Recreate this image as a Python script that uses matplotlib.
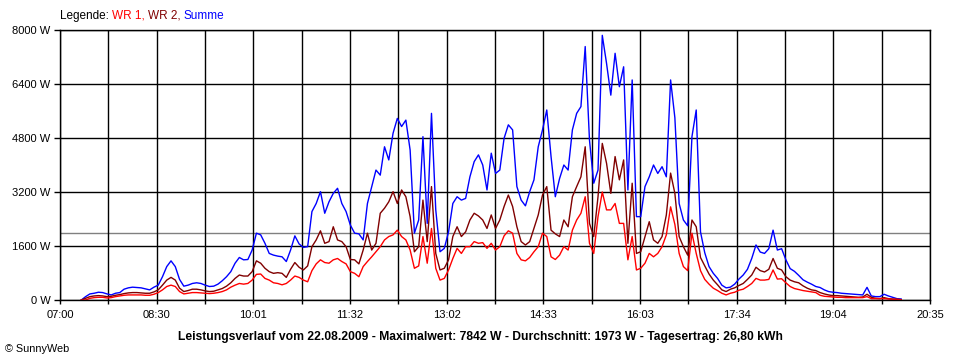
import numpy as np
import matplotlib
matplotlib.use("Agg")
import matplotlib.pyplot as plt

# Zeitachse: 07:20 bis 20:08, alle 4 Minuten (Minuten seit Mitternacht)
minutes = np.arange(440, 1209, 4)

summe = [0,100,180,200,230,220,180,150,200,220,
         320,360,380,370,360,330,300,380,440,690,
         990,1160,990,610,410,440,490,510,490,440,
         400,410,470,570,690,840,1090,1260,1190,1200,
         1480,1980,
         1930,1680,1380,1330,1300,1280,1140,1480,1900,1660,
         1560,1580,2620,2860,3210,2570,2910,3160,3310,2860,
         2620,2220,1980,1960,1780,2860,3360,3850,3700,4540,
         4150,4940,5380,5140,
         5330,4440,1980,2370,4840,2270,5530,2670,1430,1530,
         2020,2860,3060,2960,3010,3650,4100,4300,4000,3260,
         4350,3750,3850,4790,5190,5040,3360,2960,2790,3210,
         3560,4540,5040,5630,
         4250,3060,3600,4000,3850,5040,5530,5730,7510,4740,
         3460,3850,7842,7010,6070,7310,6320,6910,3260,6520,
         2470,2470,3360,3650,4000,3750,3950,3650,6520,5400,
         2860,2370,
         2200,4840,5630,2020,1400,990,790,640,440,360,
         380,470,620,740,910,1230,1630,1420,1380,1520,
         2070,1480,1520,1190,930,850,730,600,530,470,
         400,
         370,300,250,230,220,200,190,180,170,160,
         150,375,120,100,100,170,120,80,40,30]

wr2 = [0,50,100,120,130,120,100,110,140,160,
       190,210,220,220,210,200,200,240,300,440,
       590,670,590,350,250,280,320,320,300,270,
       250,260,300,340,410,510,640,740,710,710,
       840,1160,
       1090,940,840,790,810,790,670,910,1110,970,
       890,1010,1580,1780,2050,1680,1730,2170,1780,1730,
       1580,1200,1190,1070,1480,1980,1480,1680,2570,2720,
       2910,3210,2860,3260,
       3060,2470,1430,1580,2960,1730,3360,1380,890,940,
       1190,1880,2170,1880,2020,2370,2570,2490,2370,2120,
       2520,2120,2370,2770,3110,2770,2170,1730,1630,1730,
       2120,2520,3110,3360,
       2070,1960,1880,2370,2170,3060,3360,3650,4540,2270,
       1880,3060,4640,4050,3160,4250,3560,4150,1680,3460,
       1380,1430,1880,2320,1780,1680,1880,2520,3760,3160,
       1880,1580,
       1330,2370,2170,1260,1010,770,590,450,300,250,
       320,360,430,490,610,740,970,870,830,910,
       1230,940,890,690,590,540,510,420,350,300,
       280,
       220,180,150,130,130,120,110,100,90,80,
       90,170,80,50,40,70,40,30,20,10]

wr1 = [0,0,50,70,80,80,60,70,100,120,
       140,150,150,150,150,140,140,170,220,300,
       400,440,400,250,180,200,220,220,210,200,
       190,200,220,250,300,380,440,490,470,490,
       590,760,
       770,640,590,510,490,450,490,590,710,670,
       590,540,870,1070,1190,1110,1090,1190,1230,1140,
       1070,840,790,690,990,1140,1280,1430,1580,1780,
       1880,1930,2070,1880,
       1780,1480,940,1010,1880,1090,2120,940,590,640,
       890,1230,1530,1380,1580,1580,1730,1680,1700,1530,
       1680,1480,1580,1900,2050,1980,1380,1190,1160,1260,
       1430,1580,1980,1880,
       1280,1200,1330,1580,1480,2070,2370,2570,3060,1680,
       1380,2470,3200,2670,2670,2860,2270,2270,1190,1880,
       890,940,1090,1380,1280,1380,1580,1930,2760,2240,
       1380,990,
       870,1980,1380,870,610,470,350,280,200,150,
       200,230,290,320,400,490,640,590,590,610,
       890,620,630,510,400,340,310,280,260,240,
       220,
       140,110,100,90,80,80,70,70,70,70,
       70,100,40,40,40,40,30,20,20,10]

durchschnitt = 1973
x_labels = ["07:00", "08:30", "10:01", "11:32", "13:02",
            "14:33", "16:03", "17:34", "19:04", "20:35"]
y_ticks = [0, 1600, 3200, 4800, 6400, 8000]
title = ("Leistungsverlauf vom 22.08.2009 - Maximalwert: 7842 W - "
         "Durchschnitt: 1973 W - Tagesertrag: 26,80 kWh")

plt.rcParams['font.family'] = ['Liberation Sans', 'DejaVu Sans']

fig = plt.figure(figsize=(9.6, 3.6), dpi=100)
ax = fig.add_axes([60/960, 60/360, 870/960, 270/360])

ax.plot(minutes, summe, color='#0000ff', lw=1)
ax.plot(minutes, wr2, color='#800000', lw=1)
ax.plot(minutes, wr1, color='#ff0000', lw=1)
ax.axhline(durchschnitt, color='#808080', lw=1, zorder=1)

# 18 Intervalle von 07:00 bis 20:35
xt = np.linspace(420, 1235, 19)
ax.set_xlim(420, 1235)
ax.set_ylim(0, 8000)
ax.set_xticks(xt)
ax.set_xticklabels([x_labels[i // 2] if i % 2 == 0 else "" for i in range(19)])
ax.set_yticks(y_ticks)
ax.set_yticklabels([f"{v} W" for v in y_ticks])
ax.grid(True, color='black', lw=1)
for s in ax.spines.values():
    s.set_color('black')
    s.set_linewidth(1)
ax.tick_params(axis='x', length=3, width=1, pad=4, labelsize=8)
ax.tick_params(axis='y', length=4, width=1, pad=3, labelsize=8)

fig.text(0.5, 1 - 337/360, title, ha='center', va='center',
         fontsize=8.7, fontweight='bold')
fig.text(5/960, 1 - 349/360, "© SunnyWeb", ha='left', va='center', fontsize=7.8)

# Legende oben links, mehrfarbig
fig.canvas.draw()
r = fig.canvas.get_renderer()
xpos = 60 / 960
for txt, col in [("Legende: ", 'black'), ("WR 1, ", '#ff0000'),
                 ("WR 2, ", '#800000'), ("Summe", '#0000ff')]:
    t = fig.text(xpos, 1 - 16/360, txt, color=col, ha='left', va='center', fontsize=8.5)
    w = t.get_window_extent(renderer=r).width
    xpos += w / fig.bbox.width

fig.savefig('out.png', dpi=100)
